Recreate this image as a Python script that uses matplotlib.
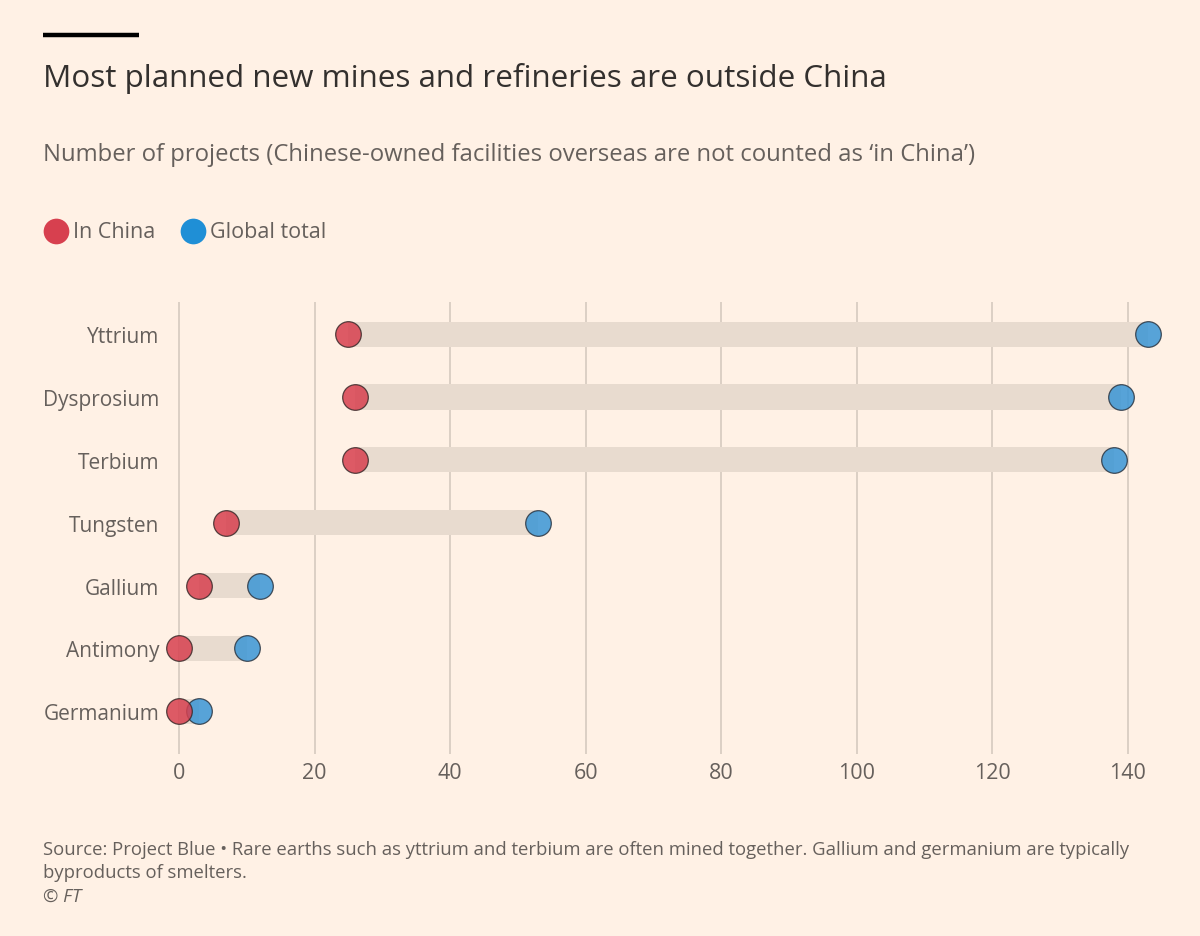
import matplotlib.pyplot as plt
from matplotlib.lines import Line2D

# data
elements = ["Yttrium", "Dysprosium", "Terbium", "Tungsten", "Gallium", "Antimony", "Germanium"]
in_china = [25, 26, 26, 7, 3, 0, 0]
global_total = [143, 139, 138, 53, 12, 10, 3]
xticks = [0, 20, 40, 60, 80, 100, 120, 140]

BG = "#fff1e5"
RED = "#d7404f"
BLUE = "#3a96d6"
BAR = "#e8dbcf"
GRID = "#d9cdc2"
TXT = "#33302e"
SUB = "#66605c"

plt.rcParams["font.family"] = ["Open Sans", "DejaVu Sans"]

fig = plt.figure(figsize=(12, 9.37), dpi=100)
fig.patch.set_facecolor(BG)

ax = fig.add_axes([0.1375, 0.2124, 0.8333, 0.4642])
ax.set_facecolor(BG)

ypos = list(range(len(elements)))

# connecting bars
ax.barh(ypos, [g - c for c, g in zip(in_china, global_total)], left=in_china,
        height=0.4, color=BAR, zorder=2)

ax.scatter(in_china, ypos, s=340, color=RED, alpha=0.85,
           edgecolor="#3a2a2a", linewidth=0.9, zorder=4)
ax.scatter(global_total, ypos, s=340, color=BLUE, alpha=0.85,
           edgecolor="#2a3440", linewidth=0.9, zorder=3)

ax.set_xlim(-2.07, 145.5)
ax.set_ylim(6.41, -0.51)
ax.set_xticks(xticks)
ax.set_yticks(ypos)
ax.set_yticklabels(elements)
ax.grid(axis="x", color=GRID, linewidth=1.3, zorder=1)
ax.tick_params(axis="x", length=12, width=1.3, color=GRID, pad=6,
               labelsize=15.5, labelcolor=SUB, direction="out")
ax.tick_params(axis="y", length=0, pad=4, labelsize=15, labelcolor=SUB)
for s in ax.spines.values():
    s.set_visible(False)

# header
fig.add_artist(Line2D([43 / 1200, 139 / 1200], [1 - 36 / 937] * 2,
                      color="black", linewidth=3.2, solid_capstyle="butt"))
fig.text(43 / 1200, 1 - 79 / 937, "Most planned new mines and refineries are outside China",
         fontsize=22.6, color=TXT, va="center")
fig.text(43 / 1200, 1 - 155 / 937,
         "Number of projects (Chinese-owned facilities overseas are not counted as \u2018in China\u2019)",
         fontsize=17.2, color=SUB, va="center")

# legend
fig.add_artist(Line2D([56 / 1200], [1 - 232 / 937], marker="o", markersize=18.5,
                      color=RED, markeredgewidth=0))
fig.text(73 / 1200, 1 - 232 / 937, "In China", fontsize=15.5, color=SUB, va="center")
fig.add_artist(Line2D([193 / 1200], [1 - 232 / 937], marker="o", markersize=18.5,
                      color="#1f8fd6", markeredgewidth=0))
fig.text(210 / 1200, 1 - 232 / 937, "Global total", fontsize=15.5, color=SUB, va="center")

# footer
fig.text(43 / 1200, 1 - 850 / 937,
         "Source: Project Blue \u2022 Rare earths such as yttrium and terbium are often mined together. "
         "Gallium and germanium are typically",
         fontsize=13.3, color=SUB, va="center")
fig.text(43 / 1200, 1 - 873 / 937, "byproducts of smelters.", fontsize=13.3, color=SUB, va="center")
fig.text(43 / 1200, 1 - 897 / 937, "\u00a9 FT", fontsize=13.3, color=SUB, va="center", style="italic")

fig.savefig("out.png", dpi=100, facecolor=BG)
